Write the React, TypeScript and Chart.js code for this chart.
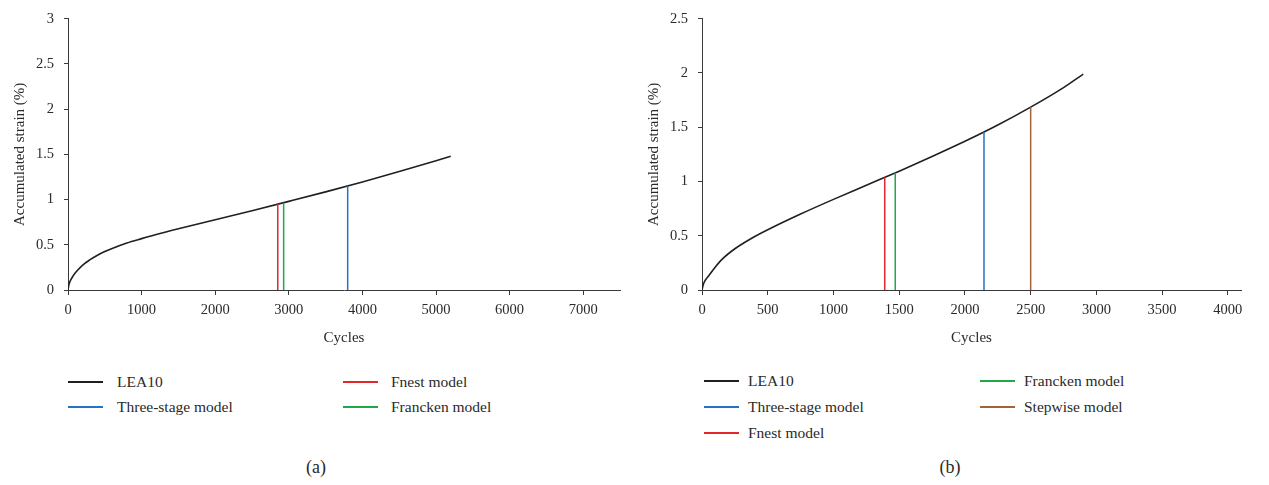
import React, { useEffect, useRef } from "react";
import { Chart, registerables } from "chart.js";
Chart.register(...registerables);

// ---------- Data (a) ----------
const cyclesA = [0, 10, 25, 50, 100, 200, 300, 400, 500, 600, 800, 1000, 1250, 1500, 2000, 2500, 3000, 3500, 4000, 4500, 5000, 5200];
const strainA = [0, 0.05, 0.09, 0.13, 0.19, 0.275, 0.335, 0.385, 0.425, 0.46, 0.52, 0.568, 0.625, 0.677, 0.777, 0.877, 0.98, 1.085, 1.195, 1.31, 1.43, 1.48];
const modelNamesA = ["Fnest model", "Francken model", "Three-stage model"];
const modelCyclesA = [2850, 2930, 3800];
const modelStrainA = [0.95, 0.965, 1.15];
const xTicksA = [0, 1000, 2000, 3000, 4000, 5000, 6000, 7000];
const yTicksA = [0, 0.5, 1, 1.5, 2, 2.5, 3];

// ---------- Data (b) ----------
const cyclesB = [0, 10, 25, 50, 100, 150, 250, 375, 500, 750, 1000, 1250, 1500, 1750, 2000, 2250, 2500, 2750, 2900];
const strainB = [0, 0.05, 0.09, 0.13, 0.21, 0.28, 0.38, 0.475, 0.555, 0.7, 0.835, 0.965, 1.095, 1.23, 1.37, 1.52, 1.685, 1.865, 1.99];
const modelNamesB = ["Fnest model", "Francken model", "Three-stage model", "Stepwise model"];
const modelCyclesB = [1390, 1470, 2145, 2500];
const modelStrainB = [1.04, 1.08, 1.457, 1.685];
const xTicksB = [0, 500, 1000, 1500, 2000, 2500, 3000, 3500, 4000];
const yTicksB = [0, 0.5, 1, 1.5, 2, 2.5];

const COLORS: Record<string, string> = {
  LEA10: "#231f20",
  "Fnest model": "#e3262b",
  "Francken model": "#22a84a",
  "Three-stage model": "#2473c4",
  "Stepwise model": "#a5623a",
};

const FONT = "'Liberation Serif', 'DejaVu Serif', serif";
const TEXT = "#2a2a2a";
const AXIS = "#3a3a3a";

function buildConfig(
  cycles: number[],
  strain: number[],
  names: string[],
  mCycles: number[],
  mStrain: number[],
  xTicks: number[],
  yTicks: number[],
  xMax: number,
  yMax: number,
  rightPad: number
): any {
  const datasets: any[] = names.map((n, i) => ({
    label: n,
    data: [
      { x: mCycles[i], y: 0 },
      { x: mCycles[i], y: mStrain[i] },
    ],
    borderColor: COLORS[n],
    borderWidth: 1.5,
    pointRadius: 0,
    fill: false,
  }));
  datasets.push({
    label: "LEA10",
    data: cycles.map((x, i) => ({ x, y: strain[i] })),
    borderColor: COLORS.LEA10,
    borderWidth: 1.6,
    pointRadius: 0,
    fill: false,
    cubicInterpolationMode: "monotone",
  });
  return {
    type: "line",
    data: { datasets },
    options: {
      responsive: false,
      animation: false,
      devicePixelRatio: 1,
      layout: { padding: { top: 17, left: 0, right: rightPad, bottom: 0 } },
      plugins: { legend: { display: false }, tooltip: { enabled: false } },
      scales: {
        x: {
          type: "linear",
          min: 0,
          max: xMax,
          afterBuildTicks: (s: any) => {
            s.ticks = xTicks.map((v) => ({ value: v }));
          },
          ticks: {
            autoSkip: false,
            color: TEXT,
            font: { family: FONT, size: 14.5 },
            padding: 6,
            maxRotation: 0,
            callback: (v: any) => String(v),
          },
          grid: { drawOnChartArea: false, drawTicks: true, tickLength: 5, color: AXIS },
          border: { color: AXIS, width: 1 },
          title: {
            display: true,
            text: "Cycles",
            color: TEXT,
            font: { family: FONT, size: 15 },
            padding: { top: 3, bottom: 3 },
          },
          afterFit: (s: any) => {
            s.height = 60;
          },
        },
        y: {
          type: "linear",
          min: 0,
          max: yMax,
          afterBuildTicks: (s: any) => {
            s.ticks = yTicks.map((v) => ({ value: v }));
          },
          ticks: {
            autoSkip: false,
            color: TEXT,
            font: { family: FONT, size: 14.5 },
            padding: 10,
            callback: (v: any) => String(v),
          },
          grid: { drawOnChartArea: false, drawTicks: true, tickLength: 4, color: AXIS },
          border: { color: AXIS, width: 1 },
          title: {
            display: true,
            text: "Accumulated strain (%)",
            color: TEXT,
            font: { family: FONT, size: 15 },
            padding: { top: 11, bottom: 0 },
          },
          afterFit: (s: any) => {
            s.width = 68;
          },
        },
      },
    },
  };
}

function ChartCanvas(props: { config: () => any; left: number; width: number; height: number }) {
  const ref = useRef<HTMLCanvasElement | null>(null);
  useEffect(() => {
    if (!ref.current) return;
    const c = new Chart(ref.current, props.config());
    return () => c.destroy();
  }, []);
  return (
    <canvas
      ref={ref}
      width={props.width}
      height={props.height}
      style={{ position: "absolute", left: props.left, top: 0, width: props.width, height: props.height }}
    />
  );
}

function LegendItem(props: { name: string; lineX: number; textX: number; y: number }) {
  return (
    <>
      <div
        style={{
          position: "absolute",
          left: props.lineX,
          top: props.y - 1,
          width: 35,
          height: 0,
          borderTop: `2px solid ${COLORS[props.name]}`,
        }}
      />
      <div
        style={{
          position: "absolute",
          left: props.textX,
          top: props.y - 10,
          height: 20,
          lineHeight: "20px",
          fontFamily: FONT,
          fontSize: 15.5,
          color: TEXT,
          whiteSpace: "nowrap",
        }}
      >
        {props.name}
      </div>
    </>
  );
}

export default function App() {
  const cfgA = () =>
    buildConfig(cyclesA, strainA, modelNamesA, modelCyclesA, modelStrainA, xTicksA, yTicksA, 7500, 3, 14);
  const cfgB = () =>
    buildConfig(cyclesB, strainB, modelNamesB, modelCyclesB, modelStrainB, xTicksB, yTicksB, 4100, 2.5, 28);
  return (
    <div
      style={{
        position: "absolute",
        left: 0,
        top: 0,
        width: 1269,
        height: 485,
        background: "#ffffff",
        overflow: "hidden",
      }}
    >
      <ChartCanvas config={cfgA} left={0} width={634} height={350} />
      <ChartCanvas config={cfgB} left={634} width={635} height={350} />

      <LegendItem name="LEA10" lineX={68} textX={117} y={382} />
      <LegendItem name="Three-stage model" lineX={68} textX={117} y={407} />
      <LegendItem name="Fnest model" lineX={343} textX={391} y={382} />
      <LegendItem name="Francken model" lineX={343} textX={391} y={407} />

      <LegendItem name="LEA10" lineX={704} textX={748} y={381} />
      <LegendItem name="Three-stage model" lineX={704} textX={748} y={407} />
      <LegendItem name="Fnest model" lineX={704} textX={748} y={433} />
      <LegendItem name="Francken model" lineX={980} textX={1024} y={381} />
      <LegendItem name="Stepwise model" lineX={980} textX={1024} y={407} />

      <div
        style={{
          position: "absolute",
          left: 296,
          width: 40,
          top: 456,
          textAlign: "center",
          fontFamily: FONT,
          fontSize: 18,
          lineHeight: "22px",
          color: TEXT,
        }}
      >
        (a)
      </div>
      <div
        style={{
          position: "absolute",
          left: 930,
          width: 40,
          top: 456,
          textAlign: "center",
          fontFamily: FONT,
          fontSize: 18,
          lineHeight: "22px",
          color: TEXT,
        }}
      >
        (b)
      </div>
    </div>
  );
}
